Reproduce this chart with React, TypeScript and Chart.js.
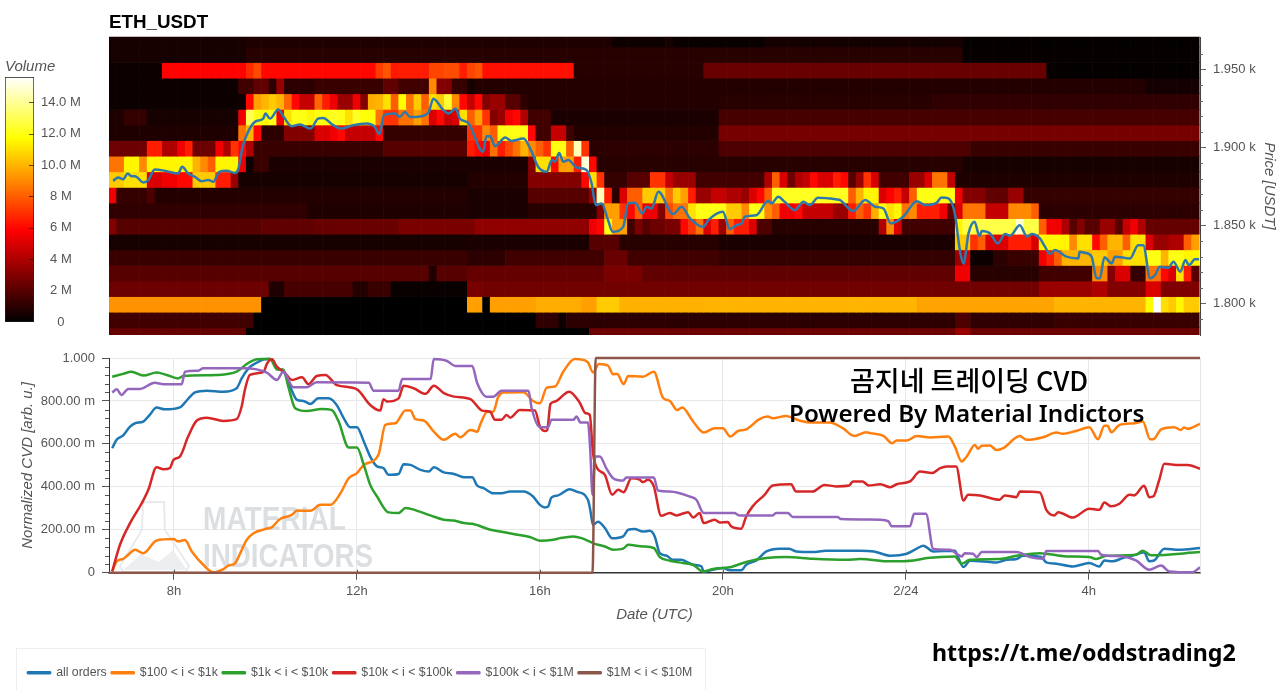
import React, { useEffect, useRef } from "react";
import { Chart, registerables } from "chart.js";

Chart.register(...registerables);

const FONT = "'Liberation Sans', Arial, sans-serif";
const COLUMNS = 143;
const START_HOUR = 6.58;
const END_HOUR = 30.43;
const COLUMN_HOURS = 1 / 6;
const VOLUME_MAX = 15.6;

// Each run is [column where the run ends (exclusive), volume in millions]
const row1970 = [[18,.5],[66,.7],[73,.35],[74,.5],[86,.2],[112,.45],[143,.1]];
const row1960 = [[18,.5],[112,.9],[143,.15]];
const row1950 = [[7,.3],[18,5.9],[19,6.8],[20,7.5],[35,6],[36,7.2],[37,7.8],[38,6.4],[42,6.5],[44,7.4],[46,7.6],[47,6.5],[48,7.4],[49,7.8],[61,6.2],[78,.9],[123,2.4],[143,.1]];
const row1940 = [[17,.3],[19,1.5],[21,2.2],[22,1],[23,3.5],[27,1],[36,1.3],[38,2.2],[42,1.5],[43,9],[45,3],[47,1.2],[48,.5],[136,.8],[143,.45]];
const row1930 = [[18,.3],[19,6],[20,9.5],[21,10],[22,10.5],[23,10],[24,8.2],[25,6],[27,4.5],[28,8.2],[29,6.5],[30,5.5],[32,3.5],[33,5.5],[34,3],[35,9.8],[36,10],[37,11],[38,8],[39,11.7],[40,8.5],[41,10.5],[42,8],[43,11],[44,10.5],[45,12.5],[46,9],[47,6],[48,4.5],[49,6],[50,3],[52,3.5],[54,2],[55,1],[80,.8],[108,.9],[143,1.1]];
const row1920 = [[2,.7],[5,1.2],[17,.5],[18,5.5],[19,13],[20,12],[21,11.5],[22,12],[23,5.5],[24,11],[26,12],[27,11.5],[28,12],[29,11.8],[30,12.2],[31,12],[32,11],[33,12.3],[35,11.8],[36,8.5],[38,7],[40,8.5],[41,9.5],[42,8.5],[43,5],[44,6],[45,4.5],[46,5],[47,11],[48,8],[49,9.5],[50,7],[51,3],[52,3.5],[53,5.5],[54,6],[55,4],[58,1.5],[80,.6],[143,1.6]];
const row1910 = [[17,.7],[18,8.5],[19,10],[20,6],[23,1],[27,3],[29,5],[30,5.5],[31,6],[35,4.5],[36,6],[47,1.2],[49,7],[50,9],[51,8],[55,12],[56,6],[58,1.5],[60,4.5],[61,1.5],[80,.8],[143,2.7]];
const row1900 = [[5,2.5],[7,6.5],[9,4],[10,5.5],[11,6.5],[14,2.5],[15,5.5],[16,4],[17,7],[18,6],[19,4],[36,1.3],[47,2],[48,6.5],[49,6],[50,5.5],[51,8.5],[52,6.5],[53,7.5],[54,8.5],[55,10],[56,9],[57,8],[58,7],[60,12],[61,8],[62,14.5],[63,7],[80,1],[113,1.8],[143,1.3]];
const row1890 = [[2,8.5],[4,11.5],[5,9],[11,11.5],[12,10],[13,9],[14,8],[17,11.5],[18,5.5],[19,.3],[21,1.3],[55,.6],[56,3],[58,11],[59,6],[61,9.5],[62,6.5],[63,15],[64,6],[112,.9],[143,.5]];
const row1880 = [[2,10.5],[5,11],[7,5],[9,5.5],[11,6],[14,10.5],[16,6.5],[17,3.5],[47,.5],[55,.8],[62,3],[63,6],[64,11],[65,7],[68,1.2],[71,2],[73,7],[74,4.5],[77,3.5],[86,1.5],[87,4],[88,8],[89,5],[90,2.5],[91,4],[92,4.5],[93,6],[95,5],[96,6.5],[97,6],[98,2],[99,3.5],[100,7],[101,5],[105,1.5],[107,3.5],[108,5],[110,8.5],[111,4.5],[143,.7]];
const row1870 = [[1,5.5],[5,1.2],[6,1.8],[47,.8],[55,.6],[63,2],[64,3.5],[65,14.5],[66,6.5],[67,1],[68,5],[70,8],[73,10.5],[74,8.5],[75,10.5],[76,9.5],[77,6.5],[79,3.5],[81,4.5],[83,4],[84,3.5],[85,5],[86,6],[87,8],[97,12.2],[98,8],[99,10],[101,11.5],[102,5],[103,5.8],[104,6.5],[105,4.5],[106,8],[111,12],[112,5.5],[115,3],[118,2.2],[120,3.5],[143,1.2]];
const row1860 = [[26,1.1],[47,.7],[55,.6],[64,.9],[65,3],[67,9.5],[68,7],[69,6],[70,8],[72,5.5],[73,3],[74,7.5],[76,8.5],[77,11],[81,12],[83,10.5],[84,9],[86,12],[87,9],[88,8],[90,5.5],[91,6],[95,4.5],[97,3.5],[98,6.5],[99,8],[100,7],[101,9.8],[102,12],[103,11],[104,11.5],[105,8.5],[106,9],[109,6.5],[110,5.5],[111,2.2],[112,5],[115,8.5],[118,4.5],[121,9],[122,8],[143,1]];
const row1850 = [[1,3],[20,2],[27,2.2],[38,2.4],[48,2.8],[63,3.3],[64,5.5],[65,6],[66,12],[68,9.5],[69,1.5],[70,2.8],[71,2],[73,2.5],[75,2.8],[76,6],[77,7],[78,8.5],[79,5],[80,6.5],[81,3.5],[82,8],[84,6.5],[85,5],[87,1.8],[101,.9],[102,4],[103,9],[104,5],[111,1.5],[112,11.5],[119,12.8],[120,14.8],[122,12.8],[123,8],[125,5.5],[126,4],[127,2],[128,3],[130,2],[132,3.5],[133,2],[134,4.5],[135,5.5],[136,4],[143,2.3]];
const row1840 = [[47,.5],[63,.6],[67,2],[80,.9],[111,.6],[113,10.5],[114,7],[115,8],[118,5],[121,6.5],[122,5],[126,11.5],[127,9],[129,11],[130,6],[131,8],[133,10],[134,8],[136,11],[137,5],[139,3.5],[141,4],[142,8],[143,9.5]];
const row1830 = [[47,1.3],[52,1],[65,1.5],[68,2.4],[80,1.5],[111,1.2],[112,3.5],[113,5],[116,.3],[118,1],[122,1.3],[123,5.5],[124,6.5],[125,8],[129,10],[131,10.5],[133,9.5],[136,11],[138,12],[139,10],[141,12],[143,11.5]];
const row1820 = [[42,2],[43,.7],[47,2],[65,2.3],[70,2.8],[111,2.2],[113,5.5],[122,.9],[129,1.5],[131,9],[132,3],[134,5],[136,1.2],[138,8.5],[139,6],[140,5],[141,11],[142,6.5],[143,2]];
const row1810 = [[21,2.5],[23,.7],[32,1.6],[34,.8],[37,1.3],[47,.2],[49,2.8],[122,2.6],[129,3.5],[131,4],[136,3],[138,5],[143,2.9]];
const row1800 = [[20,9.2],[47,0],[49,9.5],[50,0],[56,9.5],[62,9.8],[64,9.5],[67,10.5],[78,9.9],[106,10],[124,9.6],[136,10],[137,11.6],[138,15.6],[139,11],[140,10.5],[141,11.5],[143,10.5]];
const row1790 = [[19,1.5],[56,0],[59,1.1],[60,.3],[96,1],[111,1],[113,1.8],[124,1.1],[143,1.3]];
const row1780 = [[18,2.3],[63,0],[111,2.5],[113,3.5],[143,2.5]];

const heatRows: [number, number[][]][] = [
  [1970,row1970],[1960,row1960],[1950,row1950],[1940,row1940],[1930,row1930],
  [1920,row1920],[1910,row1910],[1900,row1900],[1890,row1890],[1880,row1880],
  [1870,row1870],[1860,row1860],[1850,row1850],[1840,row1840],[1830,row1830],
  [1820,row1820],[1810,row1810],[1800,row1800],[1790,row1790],[1780,row1780],
];

// [hour since 2/23 00:00, price in USDT]
const priceLine = [[6.67,1878.5],[6.78,1880.7],[6.89,1879.6],[6.99,1883.2],[7.07,1881.5],[7.15,1881.5],[7.33,1877.5],[7.44,1879],[7.58,1885.8],[7.84,1884.7],[8.09,1883.2],[8.18,1887.5],[8.31,1883.2],[8.46,1881],[8.6,1878.3],[8.75,1879],[8.86,1877.9],[8.99,1884.3],[9.15,1884.9],[9.33,1883.6],[9.41,1886.4],[9.5,1900.3],[9.62,1909.9],[9.77,1916.3],[9.95,1918.4],[10,1921.6],[10.1,1918.4],[10.28,1924.2],[10.39,1919.9],[10.57,1913.5],[10.75,1914.6],[10.99,1912],[11.15,1918.4],[11.26,1918.8],[11.48,1914.2],[11.66,1912],[11.92,1914.2],[12.21,1915.2],[12.39,1913.1],[12.49,1908.4],[12.59,1920.6],[12.83,1921.6],[12.94,1919.5],[13.05,1922.7],[13.16,1919.5],[13.3,1919.5],[13.56,1922],[13.67,1931.2],[13.89,1923.8],[14,1921.6],[14.16,1924.8],[14.25,1918.4],[14.43,1915.6],[14.76,1897.1],[14.83,1907.1],[14.91,1907.1],[15.02,1900.7],[15.24,1906.3],[15.38,1904.1],[15.64,1905.6],[15.82,1897.1],[15.96,1887.5],[16.15,1884.3],[16.26,1891.8],[16.33,1890.7],[16.42,1896.4],[16.51,1890.7],[16.62,1891.8],[16.8,1887.1],[17.02,1885.4],[17.13,1876.8],[17.22,1863],[17.35,1864],[17.49,1853.3],[17.59,1845.9],[17.82,1849],[17.93,1864],[18.08,1864.4],[18.24,1857.6],[18.33,1861.9],[18.44,1860.8],[18.59,1871.5],[18.91,1857.2],[19.1,1861.9],[19.28,1854.4],[19.57,1849],[19.68,1853.3],[20,1858.7],[20.15,1847.6],[20.3,1850.1],[20.41,1851.2],[20.48,1855.5],[20.73,1856.5],[20.99,1865.7],[21.06,1864],[21.21,1868.3],[21.35,1865.1],[21.57,1859.7],[21.76,1865.1],[21.9,1863],[22.08,1867.6],[22.48,1866.6],[22.56,1866.2],[22.85,1859.1],[23.11,1866.2],[23.33,1861.9],[23.51,1860.8],[23.67,1851.2],[23.94,1855.5],[24.24,1865.5],[24.42,1863],[24.67,1864.4],[24.78,1867.9],[24.93,1867.2],[25.07,1857.6],[25.18,1834.2],[25.26,1825.6],[25.37,1844.8],[25.5,1852.3],[25.61,1843.1],[25.66,1846.3],[25.84,1844.8],[26.01,1838.4],[26.17,1844.4],[26.28,1843.3],[26.49,1850.1],[26.65,1842.7],[26.75,1844.4],[26.93,1841.6],[27.04,1836.3],[27.15,1831.6],[27.26,1834.2],[27.51,1829.9],[27.77,1828.8],[27.8,1833.1],[27.91,1832.4],[28.06,1829.9],[28.17,1816],[28.24,1816],[28.34,1829.5],[28.5,1825.6],[28.57,1829.9],[28.9,1828.8],[29.08,1837.3],[29.19,1837.3],[29.34,1816],[29.45,1818.1],[29.55,1823.5],[29.74,1822.8],[29.85,1826.7],[30,1820.3],[30.11,1827.7],[30.19,1824.5],[30.32,1828.2],[30.41,1828.2]];

// [hour since 2/23 00:00, normalized CVD]
const allOrders = [[6.65,.58],[6.75,.62],[6.89,.64],[7.04,.68],[7.15,.696],[7.33,.704],[7.47,.735],[7.62,.769],[7.8,.761],[8.13,.77],[8.31,.81],[8.46,.84],[8.72,.848],[9.08,.843],[9.37,.859],[9.48,.905],[9.63,.952],[9.81,.978],[9.99,.994],[10.14,.994],[10.25,.952],[10.39,.94],[10.54,.867],[10.69,.805],[10.83,.8],[10.98,.786],[11.16,.812],[11.38,.812],[11.56,.78],[11.71,.72],[11.85,.678],[12,.678],[12.15,.611],[12.29,.541],[12.44,.495],[12.58,.487],[12.69,.456],[12.91,.46],[13.02,.505],[13.17,.502],[13.39,.479],[13.57,.471],[13.68,.491],[13.9,.467],[14.12,.46],[14.34,.445],[14.52,.445],[14.63,.405],[14.77,.394],[14.98,.37],[15.16,.37],[15.35,.378],[15.64,.378],[15.85,.355],[16,.316],[16.11,.304],[16.18,.308],[16.25,.35],[16.4,.36],[16.65,.389],[16.8,.378],[17.05,.34],[17.1,.293],[17.16,.223],[17.27,.237],[17.42,.208],[17.58,.16],[17.82,.169],[17.93,.2],[18.07,.203],[18.25,.192],[18.4,.195],[18.51,.169],[18.62,.091],[18.76,.08],[18.91,.06],[19.09,.06],[19.35,.037],[19.53,.03],[19.58,.006],[19.78,.014],[20,.022],[20.15,.011],[20.4,.011],[20.51,.037],[20.73,.057],[20.95,.099],[21.24,.112],[21.45,.112],[21.6,.099],[21.96,.096],[22.25,.102],[23,.102],[23.3,.099],[23.66,.079],[24.02,.088],[24.2,.107],[24.38,.126],[24.6,.099],[25.07,.102],[25.15,.068],[25.26,.026],[25.4,.056],[25.84,.05],[25.98,.048],[26.2,.06],[26.42,.064],[26.56,.079],[26.96,.073],[27.07,.048],[27.29,.042],[27.65,.029],[28.01,.045],[28.23,.029],[28.34,.057],[28.52,.053],[28.74,.068],[29.03,.084],[29.21,.095],[29.32,.053],[29.43,.057],[29.65,.112],[29.97,.107],[30.43,.115]];
const range100To1k = [[6.65,.006],[6.75,.053],[6.89,.064],[7,.084],[7.15,.107],[7.33,.091],[7.62,.15],[7.99,.157],[8.09,.146],[8.24,.152],[8.39,.099],[8.64,.037],[8.86,.002],[9.08,.017],[9.19,.033],[9.34,.045],[9.45,.091],[9.59,.153],[9.74,.184],[9.99,.203],[10.14,.212],[10.32,.25],[10.58,.27],[10.69,.29],[10.98,.288],[11.2,.316],[11.42,.316],[11.64,.37],[11.82,.44],[12,.464],[12.15,.502],[12.47,.549],[12.62,.688],[12.84,.696],[13.06,.755],[13.17,.755],[13.28,.715],[13.46,.709],[13.68,.657],[13.9,.619],[14.15,.647],[14.26,.631],[14.48,.665],[14.63,.657],[14.7,.693],[14.85,.75],[14.98,.75],[15.09,.82],[15.2,.839],[15.64,.84],[15.85,.8],[16,.789],[16.15,.862],[16.33,.867],[16.51,.936],[16.76,.995],[16.87,.994],[17.05,.98],[17.16,.933],[17.29,.972],[17.49,.964],[17.6,.924],[17.69,.926],[17.83,.878],[17.93,.916],[18.25,.913],[18.49,.936],[18.69,.815],[18.84,.8],[19,.758],[19.11,.77],[19.35,.704],[19.58,.653],[19.82,.673],[20,.673],[20.16,.634],[20.33,.66],[20.51,.668],[20.8,.715],[20.98,.727],[21.09,.719],[21.38,.73],[21.67,.709],[21.96,.699],[22.33,.699],[22.62,.673],[22.87,.637],[23.13,.654],[23.22,.65],[23.51,.637],[23.7,.603],[23.8,.616],[24.02,.616],[24.24,.637],[24.53,.63],[24.93,.634],[25.07,.588],[25.22,.518],[25.33,.541],[25.51,.595],[25.58,.577],[25.66,.591],[25.84,.592],[25.98,.572],[26.13,.58],[26.49,.637],[26.64,.619],[27,.631],[27.29,.653],[27.43,.647],[27.72,.66],[28.01,.678],[28.2,.622],[28.34,.684],[28.41,.684],[28.49,.654],[28.67,.688],[29,.696],[29.18,.704],[29.34,.622],[29.41,.622],[29.58,.668],[29.87,.678],[30.01,.665],[30.08,.676],[30.16,.67],[30.43,.693]];
const range1kTo10k = [[6.65,.913],[6.89,.926],[7.07,.936],[7.33,.918],[7.62,.932],[7.84,.921],[8.09,.905],[8.2,.916],[8.93,.921],[9.37,.936],[9.59,.972],[9.81,.994],[10.1,.997],[10.25,.947],[10.39,.947],[10.5,.867],[10.65,.766],[10.9,.753],[11.23,.763],[11.45,.758],[11.6,.704],[11.82,.583],[12,.583],[12.15,.502],[12.29,.409],[12.44,.355],[12.69,.281],[12.91,.278],[13.06,.301],[13.2,.296],[13.6,.267],[13.9,.247],[14.12,.243],[14.34,.231],[14.52,.228],[14.92,.2],[15.13,.192],[15.42,.18],[15.78,.166],[16,.149],[16.29,.153],[16.44,.161],[16.73,.169],[16.91,.161],[17.16,.138],[17.27,.13],[17.42,.122],[17.6,.107],[17.82,.112],[17.93,.13],[18.25,.122],[18.49,.115],[18.62,.073],[18.84,.056],[19.13,.045],[19.35,.037],[19.56,.006],[19.78,.017],[20.15,.025],[20.51,.05],[20.95,.068],[21.38,.073],[21.96,.065],[22.69,.06],[23,.064],[23.66,.053],[24.17,.057],[24.46,.068],[25.07,.076],[25.22,.042],[25.4,.06],[26.05,.064],[26.42,.079],[26.93,.091],[27.51,.076],[28.01,.073],[28.16,.064],[28.38,.079],[29.03,.084],[29.18,.102],[29.36,.081],[30.43,.096]];
const range10kTo100k = [[6.65,.006],[6.82,.13],[7.04,.231],[7.29,.321],[7.44,.386],[7.62,.491],[7.77,.482],[7.91,.487],[7.99,.526],[8.13,.541],[8.31,.634],[8.5,.709],[8.72,.722],[9.08,.707],[9.37,.715],[9.48,.774],[9.55,.851],[9.66,.921],[9.96,.936],[10.03,.972],[10.14,.994],[10.25,.96],[10.43,.929],[10.58,.898],[10.8,.91],[10.94,.878],[11.12,.916],[11.31,.921],[11.56,.874],[12,.854],[12.29,.781],[12.51,.755],[12.58,.808],[12.66,.797],[12.91,.812],[13.02,.871],[13.24,.859],[13.5,.833],[13.68,.871],[13.9,.836],[14.12,.82],[14.48,.808],[14.74,.755],[14.91,.75],[15.02,.712],[15.16,.712],[15.27,.735],[15.35,.722],[15.56,.758],[15.89,.755],[16,.681],[16.11,.66],[16.16,.665],[16.23,.786],[16.33,.797],[16.64,.843],[16.87,.792],[17,.743],[17.09,.735],[17.16,.557],[17.25,.487],[17.42,.456],[17.58,.363],[17.71,.386],[17.83,.375],[18,.44],[18.18,.433],[18.25,.422],[18.36,.433],[18.49,.402],[18.65,.265],[18.84,.278],[18.98,.267],[19.24,.282],[19.35,.257],[19.49,.278],[19.58,.231],[19.82,.247],[19.93,.234],[20.11,.236],[20.18,.216],[20.4,.205],[20.51,.262],[20.65,.309],[20.91,.363],[21.09,.406],[21.49,.412],[21.6,.378],[21.96,.378],[22.22,.409],[22.47,.402],[22.76,.406],[22.84,.425],[23.05,.425],[23.19,.406],[23.44,.412],[23.66,.398],[23.8,.412],[24.09,.425],[24.31,.471],[24.57,.464],[24.75,.487],[24.89,.495],[25.1,.495],[25.26,.336],[25.36,.363],[25.62,.36],[26.05,.34],[26.16,.36],[26.42,.352],[26.49,.378],[26.93,.374],[27.07,.293],[27.25,.267],[27.33,.282],[27.65,.257],[28.01,.298],[28.23,.293],[28.34,.327],[28.49,.309],[28.67,.321],[28.89,.363],[28.99,.36],[29.21,.405],[29.32,.352],[29.41,.355],[29.54,.433],[29.65,.507],[29.97,.502],[30.16,.502],[30.43,.484]];
const range100kTo1M = [[6.65,.839],[6.75,.854],[6.85,.828],[7,.856],[7.26,.856],[7.58,.885],[7.77,.878],[8.17,.878],[8.24,.936],[8.53,.941],[8.64,.952],[9.52,.952],[9.81,.947],[10.03,.932],[10.25,.898],[10.39,.936],[10.61,.864],[10.9,.864],[11.12,.887],[12.26,.885],[12.36,.848],[12.91,.848],[12.99,.902],[13.61,.902],[13.68,.995],[13.97,.986],[14.15,.963],[14.52,.963],[14.63,.882],[14.83,.82],[14.98,.82],[15.16,.848],[15.75,.848],[15.82,.766],[16,.678],[16.18,.678],[16.25,.712],[16.73,.712],[16.8,.727],[16.89,.699],[17.05,.699],[17.1,.572],[17.15,.363],[17.21,.541],[17.31,.541],[17.45,.487],[17.6,.44],[17.82,.429],[17.89,.443],[18.49,.443],[18.58,.383],[18.84,.378],[19.27,.355],[19.42,.34],[19.58,.278],[20.25,.278],[20.36,.267],[21.09,.267],[21.16,.278],[21.42,.278],[21.53,.259],[22.51,.259],[22.58,.25],[23.44,.247],[23.62,.239],[23.69,.216],[24.09,.216],[24.18,.274],[24.44,.274],[24.6,.11],[24.97,.107],[25.11,.088],[25.22,.076],[25.29,.091],[25.47,.088],[25.55,.073],[25.66,.096],[26.42,.096],[26.71,.073],[27,.065],[27.07,.101],[28.2,.101],[28.27,.084],[28.74,.076],[29.03,.057],[29.32,.014],[29.58,.033],[29.76,.006],[30.26,.002],[30.43,.025]];
const range1MTo10M = [[6.58,0],[17.15,0],[17.22,1],[30.43,1]];

const seriesNames = ["all orders","$100 < i < $1k","$1k < i < $10k","$10k < i < $100k","$100k < i < $1M","$1M < i < $10M"];
const seriesValues = [allOrders,range100To1k,range1kTo10k,range10kTo100k,range100kTo1M,range1MTo10M];
const seriesColors = ["#1f77b4","#ff7f0e","#2ca02c","#d62728","#9467bd","#8c564b"];

const timeTicks = [8,12,16,20,24,28];
const timeLabels = ["8h","12h","16h","20h","2/24","4h"];
const priceTicks = [1800,1850,1900,1950];
const priceMinorTicks = [1790,1810,1820,1830,1840,1860,1870,1880,1890,1910,1920,1930,1940,1960];
const cvdTicks = [0,.2,.4,.6,.8,1];
const cvdMinorTicks = [.04,.08,.12,.16,.24,.28,.32,.36,.44,.48,.52,.56,.64,.68,.72,.76,.84,.88,.92,.96];
const volumeTicks = [0,2,4,6,8,10,12,14];

function hot(v: number) {
  const t = Math.max(0, Math.min(v / VOLUME_MAX, 1));
  const c = (x: number) => Math.round(Math.max(0, Math.min(1, x)) * 255);
  return `rgb(${c(t / 0.375)},${c((t - 0.375) / 0.375)},${c((t - 0.75) / 0.25)})`;
}

function expand(runs: number[][]) {
  const out: number[] = [];
  for (const [end, value] of runs) while (out.length < end && out.length < COLUMNS) out.push(value);
  return out;
}

const toPoints = (pairs: number[][]) => pairs.map(([x, y]) => ({ x, y }));

function noPadding(axis: any) {
  axis.paddingTop = 0;
  axis.paddingBottom = 0;
  axis.paddingLeft = 0;
  axis.paddingRight = 0;
}

function drawTicks(ctx: any, scale: any, values: number[], x0: number, x1: number, color: string) {
  ctx.save();
  ctx.strokeStyle = color;
  ctx.lineWidth = 1;
  for (const v of values) {
    const y = Math.round(scale.getPixelForValue(v)) + 0.5;
    ctx.beginPath();
    ctx.moveTo(x0, y);
    ctx.lineTo(x1, y);
    ctx.stroke();
  }
  ctx.restore();
}

export default function App() {
  const heatRef = useRef<HTMLCanvasElement>(null);
  const cvdRef = useRef<HTMLCanvasElement>(null);
  const barRef = useRef<HTMLCanvasElement>(null);

  useEffect(() => {
    const tickFont = { family: FONT, size: 13 };
    const titleFont = { family: FONT, size: 15, style: "italic" as const, weight: "normal" as const };

    const heatDatasets: any[] = heatRows.map(([price, runs]) => {
      const values = expand(runs);
      return {
        type: "bar",
        label: `${price}`,
        data: values.map((_, i) => ({ x: START_HOUR + (i + 0.5) * COLUMN_HOURS, y: [price - 5.7, price + 4.3] })),
        backgroundColor: values.map(hot),
        borderWidth: 0,
        grouped: false,
        barPercentage: 1,
        categoryPercentage: 1,
        order: 1,
      };
    });
    heatDatasets.push({
      type: "line",
      label: "price",
      data: toPoints(priceLine),
      borderColor: "#2f78ab",
      borderWidth: 2.5,
      borderJoinStyle: "round",
      cubicInterpolationMode: "monotone",
      pointRadius: 0,
      order: 0,
    });

    const heat = new Chart(heatRef.current!, {
      type: "bar",
      data: { datasets: heatDatasets },
      plugins: [{
        id: "priceFrame",
        afterDraw(chart: any) {
          const { ctx, chartArea: a, scales } = chart;
          drawTicks(ctx, scales.y, priceMinorTicks, a.right, a.right + 3, "#666");
          ctx.save();
          ctx.strokeStyle = "#c9bcbc";
          ctx.beginPath();
          ctx.moveTo(a.left, a.top - 0.5);
          ctx.lineTo(a.right, a.top - 0.5);
          ctx.stroke();
          ctx.restore();
        },
      }],
      options: {
        animation: false,
        responsive: false,
        layout: { padding: { left: 109, top: 37, bottom: 10, right: 0 } },
        plugins: { legend: { display: false }, tooltip: { enabled: false } },
        scales: {
          x: { type: "linear", min: START_HOUR, max: END_HOUR, display: false, offset: false },
          y: {
            position: "right",
            min: 1779.7,
            max: 1970.7,
            afterBuildTicks(axis: any) { axis.ticks = priceTicks.map((value) => ({ value })); },
            afterFit(axis: any) { axis.width = 80; noPadding(axis); },
            grid: { drawOnChartArea: false, tickLength: 6, tickColor: "#666" },
            border: { color: "#444" },
            ticks: {
              font: tickFont, color: "#555", padding: 7,
              callback: (v: any) => `${(v / 1000).toFixed(3)} k`,
            },
            title: { display: true, text: "Price [USDT]", font: titleFont, color: "#555", padding: { top: 2, bottom: 0 } },
          },
        },
      } as any,
    });

    const cvd = new Chart(cvdRef.current!, {
      type: "line",
      data: {
        datasets: seriesNames.map((label, i) => ({
          label,
          data: toPoints(seriesValues[i]),
          borderColor: seriesColors[i],
          backgroundColor: seriesColors[i],
          borderWidth: 2.5,
          borderJoinStyle: "round",
          cubicInterpolationMode: "monotone",
          pointRadius: 0,
          order: seriesNames.length - i,
          clip: 2,
        })),
      },
      plugins: [{
        id: "watermark",
        beforeDatasetsDraw(chart: any) {
          const { ctx, chartArea: a } = chart;
          ctx.save();
          ctx.fillStyle = "#eceef0";
          ctx.beginPath();
          ctx.moveTo(a.left + 14, a.top + 212);
          ctx.lineTo(a.left + 32, a.top + 196);
          ctx.lineTo(a.left + 50, a.top + 204);
          ctx.lineTo(a.left + 64, a.top + 192);
          ctx.lineTo(a.left + 78, a.top + 212);
          ctx.closePath();
          ctx.fill();
          ctx.strokeStyle = "#e8eaec";
          ctx.lineWidth = 2;
          ctx.beginPath();
          ctx.moveTo(a.left + 34, a.top + 144);
          ctx.lineTo(a.left + 55, a.top + 144);
          ctx.lineTo(a.left + 56, a.top + 172);
          ctx.lineTo(a.left + 80, a.top + 208);
          ctx.lineTo(a.left + 77, a.top + 214);
          ctx.lineTo(a.left + 14, a.top + 214);
          ctx.lineTo(a.left + 11, a.top + 208);
          ctx.lineTo(a.left + 33, a.top + 172);
          ctx.closePath();
          ctx.stroke();
          ctx.fillStyle = "#dcdfe2";
          ctx.font = `bold 34px ${FONT}`;
          ctx.textBaseline = "middle";
          ctx.textAlign = "left";
          ctx.fillText("MATERIAL", a.left + 94, a.top + 163, 143);
          ctx.fillText("INDICATORS", a.left + 94, a.top + 200, 170);
          ctx.restore();
        },
        beforeDraw(chart: any) {
          chart.legend.left = 23;
        },
        afterDraw(chart: any) {
          const { ctx, chartArea: a, scales } = chart;
          drawTicks(ctx, scales.y, cvdMinorTicks, a.left - 4, a.left, "#555");
          ctx.save();
          ctx.strokeStyle = "#e5e5e5";
          ctx.beginPath();
          ctx.moveTo(a.right + 0.5, a.top);
          ctx.lineTo(a.right + 0.5, a.bottom);
          ctx.stroke();
          ctx.strokeStyle = "#555";
          for (const t of timeTicks) {
            const x = Math.round(scales.x.getPixelForValue(t)) + 0.5;
            ctx.beginPath();
            ctx.moveTo(x, a.bottom - 3);
            ctx.lineTo(x, a.bottom);
            ctx.stroke();
          }
          ctx.restore();
        },
      }],
      options: {
        animation: false,
        responsive: false,
        layout: { padding: { left: 0, top: 13, bottom: 1, right: 80 } },
        plugins: {
          tooltip: { enabled: false },
          legend: {
            position: "bottom",
            align: "start",
            labels: {
              font: { family: FONT, size: 12.3 },
              color: "#555",
              boxWidth: 22,
              boxHeight: 1,
              padding: 5,
              sort: (a: any, b: any) => a.datasetIndex - b.datasetIndex,
            },
          },
        },
        scales: {
          x: {
            type: "linear",
            min: START_HOUR,
            max: END_HOUR,
            afterBuildTicks(axis: any) { axis.ticks = timeTicks.map((value) => ({ value })); },
            afterFit(axis: any) { axis.height = 89; noPadding(axis); },
            grid: { color: "#e8e8e8", tickLength: 7, tickColor: "#555" },
            border: { color: "#333", width: 1.5 },
            ticks: {
              font: tickFont, color: "#555", padding: 4, maxRotation: 0,
              callback: (v: any) => timeLabels[timeTicks.indexOf(v)],
            },
            title: { display: true, text: "Date (UTC)", font: titleFont, color: "#555", padding: { top: 0, bottom: 38 } },
          },
          y: {
            min: 0,
            max: 1,
            afterBuildTicks(axis: any) { axis.ticks = cvdTicks.map((value) => ({ value })); },
            afterFit(axis: any) { axis.width = 109; noPadding(axis); },
            grid: { color: "#e8e8e8", tickLength: 7, tickColor: "#555" },
            border: { color: "#333" },
            ticks: {
              font: tickFont, color: "#555", padding: 7,
              callback: (v: any) => (v === 1 ? "1.000" : v === 0 ? "0" : `${(v * 1000).toFixed(2)} m`),
            },
            title: { display: true, text: "Normalized CVD [arb. u.]", font: titleFont, color: "#555", padding: { top: 19, bottom: 0 } },
          },
        },
      } as any,
    });

    const volumeBar = new Chart(barRef.current!, {
      type: "bar",
      data: {
        labels: ["Volume"],
        datasets: [{
          label: "Volume",
          data: [[0, VOLUME_MAX]],
          borderColor: "#222",
          borderWidth: 1,
          borderSkipped: false,
          barPercentage: 1,
          categoryPercentage: 1,
          backgroundColor(context: any) {
            const area = context.chart.chartArea;
            if (!area) return "#000";
            const g = context.chart.ctx.createLinearGradient(0, area.bottom, 0, area.top);
            g.addColorStop(0, "#000000");
            g.addColorStop(0.375, "#ff0000");
            g.addColorStop(0.75, "#ffff00");
            g.addColorStop(1, "#ffffff");
            return g;
          },
        }],
      },
      plugins: [{
        id: "barTicks",
        afterDraw(chart: any) {
          const { ctx, chartArea: a, scales } = chart;
          drawTicks(ctx, scales.y, volumeTicks.slice(1), a.right - 5, a.right, "rgba(40,20,0,0.75)");
        },
      }],
      options: {
        animation: false,
        responsive: false,
        layout: { padding: { left: 5, top: 0, bottom: 23, right: 14 } },
        plugins: {
          legend: { display: false },
          tooltip: { enabled: false },
          title: {
            display: true, text: "Volume", align: "start", color: "#555",
            font: titleFont, padding: { top: 58, bottom: 1 },
          },
        },
        scales: {
          x: { display: false },
          y: {
            position: "right",
            min: 0,
            max: VOLUME_MAX,
            afterBuildTicks(axis: any) { axis.ticks = volumeTicks.map((value) => ({ value })); },
            afterFit(axis: any) { axis.width = 52; noPadding(axis); },
            grid: { display: false, drawTicks: false },
            border: { display: false },
            ticks: {
              font: tickFont, color: "#555", padding: 7, crossAlign: "center",
              callback: (v: any) => (v === 0 ? "0" : v < 10 ? `${v} M` : `${v.toFixed(1)} M`),
            },
          },
        },
      } as any,
    });

    return () => { heat.destroy(); cvd.destroy(); volumeBar.destroy(); };
  }, []);

  const abs: React.CSSProperties = { position: "absolute" };
  const textStyle: React.CSSProperties = { ...abs, whiteSpace: "nowrap", color: "#000", lineHeight: 1 };

  return (
    <div style={{ ...abs, left: 0, top: 0, width: 1280, height: 690, background: "#fff", overflow: "hidden" }}>
      <div style={{ ...abs, left: 16, top: 648, width: 688, height: 60, border: "1px solid #eeeeee" }} />
      <canvas ref={heatRef} width={1280} height={345} style={{ ...abs, left: 0, top: 0, width: 1280, height: 345 }} />
      <canvas ref={cvdRef} width={1280} height={345} style={{ ...abs, left: 0, top: 345, width: 1280, height: 345 }} />
      <canvas ref={barRef} width={100} height={345} style={{ ...abs, left: 0, top: 0, width: 100, height: 345 }} />
      <div style={{ ...textStyle, left: 109, top: 11, font: `bold 18.8px ${FONT}` }}>ETH_USDT</div>
      <div style={{ ...textStyle, left: 850, top: 360, font: "500 27px 'Noto Sans CJK KR'" }}>곰지네 트레이딩 CVD</div>
      <div style={{ ...textStyle, left: 789, top: 396, font: "600 24.2px 'Noto Sans'" }}>Powered By Material Indictors</div>
      <div style={{ ...textStyle, left: 932, top: 636, font: "700 23.2px 'Noto Sans'" }}>https://t.me/oddstrading2</div>
    </div>
  );
}
